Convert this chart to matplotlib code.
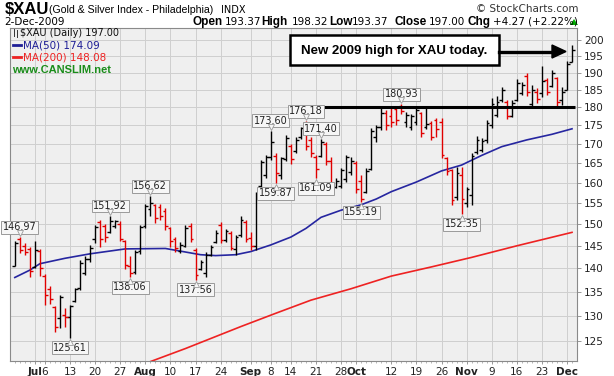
import matplotlib
matplotlib.use('Agg')
import matplotlib.pyplot as plt
import numpy as np
from matplotlib.patches import Rectangle, Polygon
from matplotlib.lines import Line2D
from matplotlib.ticker import FixedLocator, NullLocator, NullFormatter
import matplotlib.transforms as mtransforms

# ---------------- data (Jun 25 2009 .. Dec 2 2009, daily) ----------------
opens = [140.6, 146.6, 145.0, 144.3, 140.3, 143.9, 138.3, 135.5, 131.7, 129.5,
         130.1, 129.7, 133.0, 135.7, 139.0, 142.0, 146.5, 150.5, 149.5, 148.2,
         149.5, 150.0, 146.0, 140.5, 139.2, 143.8, 149.5, 153.5, 154.5, 154.0,
         153.0, 149.0, 146.5, 143.8, 145.0, 149.5, 144.0, 139.8, 139.0, 143.0,
         145.8, 149.8, 146.3, 148.0, 144.3, 147.5, 150.6, 146.8, 145.0, 159.2,
         162.0, 166.5, 166.8, 162.0, 166.0, 169.5, 168.2, 172.0, 175.8, 171.0,
         166.5, 166.8, 170.0, 165.5, 159.0, 159.2, 161.0, 162.8, 165.0, 160.5,
         157.8, 163.5, 172.0, 174.5, 178.5, 177.5, 179.5, 180.5, 176.0, 174.5,
         176.0, 178.5, 174.5, 175.8, 176.5, 176.0, 166.2, 163.2, 156.5, 162.0,
         155.0, 157.0, 168.0, 168.5, 171.0, 175.0, 178.0, 182.0, 181.5, 177.5,
         182.0, 184.0, 189.0, 181.0, 184.5, 184.0, 188.0, 186.0, 188.5, 182.0,
         185.0, 193.37]
highs = [146.0, 146.97, 145.7, 144.8, 146.2, 144.2, 138.8, 136.2, 132.0, 134.3,
         131.5, 132.2, 135.7, 141.8, 142.6, 145.2, 149.8, 151.0, 150.0, 151.92,
         151.0, 150.8, 146.4, 142.8, 144.1, 149.8, 154.9, 156.62, 154.9, 154.9,
         153.8, 149.4, 147.1, 145.9, 149.8, 150.2, 144.4, 141.8, 143.7, 145.2,
         148.6, 150.4, 148.8, 148.5, 147.5, 151.8, 151.0, 148.2, 157.8, 165.8,
         167.1, 173.60, 167.5, 166.7, 172.4, 170.0, 171.8, 174.7, 176.18, 171.8,
         167.0, 171.40, 170.5, 166.7, 161.1, 163.7, 167.1, 166.5, 165.6, 162.0,
         163.7, 174.2, 175.1, 180.2, 179.3, 180.2, 180.3, 180.93, 178.8, 178.3,
         180.2, 178.8, 180.4, 176.1, 177.0, 177.0, 166.5, 163.5, 164.1, 164.1,
         159.0, 167.5, 172.2, 171.5, 176.5, 182.6, 183.2, 185.9, 182.1, 182.0,
         188.2, 187.4, 189.9, 186.3, 185.5, 192.0, 188.5, 190.9, 188.8, 185.9,
         193.6, 198.32]
lows = [140.4, 143.3, 142.9, 138.2, 140.0, 138.3, 132.2, 132.4, 126.8, 127.5,
        127.8, 125.61, 132.9, 135.3, 138.5, 141.4, 145.6, 144.8, 145.9, 147.9,
        149.2, 146.0, 139.8, 138.06, 138.8, 143.2, 149.0, 151.8, 150.2, 151.0,
        148.6, 144.8, 143.7, 143.3, 144.8, 145.9, 137.56, 139.6, 138.2, 142.6,
        145.6, 145.6, 145.8, 144.0, 143.0, 147.0, 145.9, 144.1, 144.1, 158.6,
        161.1, 165.8, 159.87, 161.0, 165.5, 164.9, 167.5, 171.3, 168.4, 166.5,
        161.09, 166.5, 164.5, 157.4, 158.6, 158.6, 160.2, 162.0, 157.4, 155.19,
        157.4, 163.2, 170.6, 173.8, 173.8, 174.7, 175.1, 178.3, 174.7, 173.8,
        175.1, 172.0, 174.0, 171.1, 172.0, 166.2, 162.0, 154.6, 155.8, 152.35,
        154.1, 154.6, 167.3, 167.8, 170.2, 174.2, 177.2, 181.6, 176.7, 177.2,
        181.8, 183.5, 183.3, 179.7, 181.2, 183.0, 183.6, 185.9, 180.2, 180.8,
        184.9, 193.37]
closes = [145.6, 144.1, 143.6, 139.3, 144.1, 140.0, 134.3, 133.4, 127.8, 133.8,
          129.7, 132.0, 135.5, 141.2, 142.0, 144.6, 149.3, 146.5, 147.0, 150.8,
          150.7, 146.5, 140.8, 139.0, 143.6, 149.3, 154.2, 155.0, 151.5, 152.0,
          149.5, 146.0, 144.5, 145.2, 149.2, 146.5, 138.5, 141.3, 143.0, 144.8,
          148.0, 146.3, 148.3, 144.5, 147.0, 151.0, 146.5, 145.0, 157.2, 165.2,
          166.5, 170.5, 162.5, 166.2, 171.5, 166.0, 171.2, 174.2, 169.5, 167.5,
          163.5, 170.5, 165.5, 158.2, 160.5, 163.2, 166.5, 165.5, 158.5, 156.0,
          163.0, 173.5, 174.5, 178.5, 175.0, 176.0, 176.5, 179.0, 178.0, 177.5,
          179.2, 173.0, 175.5, 172.0, 174.0, 167.0, 163.0, 155.8, 162.5, 156.0,
          158.5, 166.8, 171.0, 170.8, 175.8, 181.0, 181.5, 185.0, 177.5, 181.2,
          187.0, 186.5, 184.5, 185.0, 182.5, 187.5, 184.5, 190.0, 181.5, 184.5,
          192.73, 197.00]

ma50_idx = [0, 3, 5, 10, 15, 22, 30, 33, 37, 40, 44, 47, 51, 55, 58, 61, 65,
            69, 72, 75, 80, 85, 89, 93, 97, 102, 107, 111]
ma50_val = [138.0, 139.6, 141.0, 142.2, 143.2, 144.3, 144.4, 143.8, 143.0,
            142.8, 143.0, 143.7, 145.2, 147.0, 149.0, 151.6, 153.3, 154.6,
            156.0, 157.8, 160.2, 163.0, 164.5, 167.0, 169.3, 171.1, 172.6, 174.09]

ma200_idx = [20, 27, 34, 45, 52, 59, 67, 75, 83, 91, 100, 111]
ma200_val = [118.3, 121.0, 123.5, 127.8, 130.5, 133.2, 135.6, 138.3, 140.3,
             142.4, 145.0, 148.08]

tick_idx = [4, 6, 11, 16, 21, 26, 31, 36, 41, 47, 51, 55, 60, 65, 68, 75, 80,
            85, 90, 95, 100, 105, 110]
tick_labels = ['Jul', '6', '13', '20', '27', 'Aug', '10', '17', '24', 'Sep', '8',
               '14', '21', '28', 'Oct', '12', '19', '26', 'Nov', '9', '16', '23',
               'Dec']
month_labels = {'Jul', 'Aug', 'Sep', 'Oct', 'Nov', 'Dec'}

y_ticks = [125, 130, 135, 140, 145, 150, 155, 160, 165, 170, 175, 180, 185,
           190, 195, 200]

# (bar index, value, 'H' above / 'L' below, text)
point_labels = [(1, 146.97, 'H', '146.97'), (11, 125.61, 'L', '125.61'),
                (19, 151.92, 'H', '151.92'), (23, 138.06, 'L', '138.06'),
                (27, 156.62, 'H', '156.62'), (36, 137.56, 'L', '137.56'),
                (51, 173.60, 'H', '173.60'), (52, 159.87, 'L', '159.87'),
                (58, 176.18, 'H', '176.18'), (61, 171.40, 'H', '171.40'),
                (60, 161.09, 'L', '161.09'), (69, 155.19, 'L', '155.19'),
                (77, 180.93, 'H', '180.93'), (89, 152.35, 'L', '152.35')]

resistance_level = 180.1
resistance_start = 54.8

# ---------------- figure ----------------
W, H = 614, 376
fig = plt.figure(figsize=(W / 100, H / 100), dpi=100)
fig.patch.set_facecolor('white')

PL, PR, PT, PB = 10, 577, 28, 361
ax = fig.add_axes([PL / W, 1 - PB / H, (PR - PL) / W, (PB - PT) / H])
ax.set_facecolor('#efefef')

# axis scaling (log price scale as StockCharts)
K = 640.0
ax.set_yscale('log')
ax.set_ylim(200 * np.exp(-(PB - 40) / K), 200 * np.exp((40 - PT) / K))
x0, dx = 14.8, 5.02
ax.set_xlim((PL - x0) / dx, (PR - x0) / dx)

ax.yaxis.set_major_locator(FixedLocator(y_ticks))
ax.yaxis.set_minor_locator(NullLocator())
ax.yaxis.set_minor_formatter(NullFormatter())
ax.set_yticklabels([str(v) for v in y_ticks])
ax.yaxis.tick_right()
ax.tick_params(axis='y', which='major', labelsize=7.5, length=3, width=0.6,
               pad=2, color='#888888', labelcolor='#222222')

ax.set_xticks(tick_idx)
ax.set_xticklabels(tick_labels)
ax.xaxis.set_minor_locator(FixedLocator(list(range(len(closes)))))
ax.tick_params(axis='x', which='major', length=2, width=0.6, pad=2,
               labelsize=7.5, color='#888888', labelcolor='#222222')
ax.tick_params(axis='x', which='minor', length=1.5, width=0.5, color='#999999')
for lbl in ax.get_xticklabels():
    if lbl.get_text() in month_labels:
        lbl.set_fontweight('bold')
    if lbl.get_text() == 'Jul':
        lbl.set_x(3.6)

ax.grid(True, which='major', color='#cfcfcf', lw=0.7)
ax.set_axisbelow(True)
for s in ax.spines.values():
    s.set_color('#8a8a8a')
    s.set_linewidth(0.8)

# ---------------- OHLC bars ----------------
n = len(closes)
xs = np.arange(n)
cols = ['#e00000' if c < o else '#000000' for o, c in zip(opens, closes)]
ax.vlines(xs, lows, highs, colors=cols, lw=1.0, zorder=3)
ax.hlines(opens, xs - 0.55, xs, colors=cols, lw=1.0, zorder=3)
ax.hlines(closes, xs, xs + 0.55, colors=cols, lw=1.0, zorder=3)

# moving averages
ax.plot(ma50_idx, ma50_val, color='#2626a0', lw=1.2, zorder=2)
ax.plot(ma200_idx, ma200_val, color='#ee2222', lw=1.2, zorder=2)

# resistance line
ax.hlines(resistance_level, resistance_start, n - 0.5, colors='black', lw=2.2,
          zorder=4)

# point labels
for i, v, kind, txt in point_labels:
    off = 10 if kind == 'H' else -10
    ax.annotate(txt, xy=(i, v), xytext=(0, off * 0.72), textcoords='offset points',
                ha='center', va='center', fontsize=7, color='#222222',
                family='DejaVu Sans', zorder=6,
                bbox=dict(boxstyle='square,pad=0.15', fc='#f6f6f6', ec='#9a9a9a',
                          lw=0.7))
    tr = mtransforms.offset_copy(ax.transData, fig=fig, x=0,
                                 y=(4 if kind == 'H' else -4), units='dots')
    ax.plot([i], [v], marker=('v' if kind == 'H' else '^'), ms=4,
            mfc='#f6f6f6', mec='#9a9a9a', mew=0.6, transform=tr, zorder=7)


def ft(x, y, s, **kw):
    kw.setdefault('va', 'center')
    return fig.text(x / W, 1 - y / H, s, **kw)


# ---------------- header ----------------
ft(5, 10, '$XAU', fontsize=12, fontweight='bold', family='Liberation Sans')
ft(49, 10, '(Gold & Silver Index - Philadelphia)', fontsize=7.6,
   family='Liberation Sans')
ft(221, 10, 'INDX', fontsize=7, family='DejaVu Sans')
ft(578, 9, '\u00a9 StockCharts.com', ha='right', fontsize=7.5,
   family='DejaVu Sans', color='#333333')
ft(4, 22, '2-Dec-2009', fontsize=7.5, family='DejaVu Sans')
parts = [(193, 'Open', True), (225, '193.37', False), (261, 'High', True),
         (292, '198.32', False), (329, 'Low', True), (352, '193.37', False),
         (395, 'Close', True), (429, '197.00', False), (468, 'Chg', True),
         (493, '+4.27 (+2.22%)', False)]
for x, s, b in parts:
    if b:
        ft(x, 22, s, fontsize=8.5, fontweight='bold', family='Liberation Sans')
    else:
        ft(x, 22, s, fontsize=7.5, family='DejaVu Sans')
fig.patches.append(Polygon([[570 / W, 1 - 25 / H], [578 / W, 1 - 25 / H],
                            [574 / W, 1 - 19 / H]], closed=True,
                           transform=fig.transFigure, fc='#00b000', ec='none'))

# ---------------- legend ----------------
for x, y1, y2 in [(14, 29, 36), (17, 30, 37)]:
    fig.add_artist(Line2D([x / W, x / W], [1 - y1 / H, 1 - y2 / H],
                          transform=fig.transFigure, color='#333333', lw=0.7))
ft(20, 33, '$XAU (Daily) 197.00', fontsize=7, family='DejaVu Sans',
   color='#111111')
fig.add_artist(Line2D([13 / W, 21 / W], [1 - 45 / H, 1 - 45 / H],
                      transform=fig.transFigure, color='#1e1e96', lw=2))
ft(23, 45, 'MA(50) 174.09', fontsize=7.5, family='DejaVu Sans', color='#1e1e96')
fig.add_artist(Line2D([13 / W, 21 / W], [1 - 57 / H, 1 - 57 / H],
                      transform=fig.transFigure, color='#ee2222', lw=2))
ft(23, 57, 'MA(200) 148.08', fontsize=7.5, family='DejaVu Sans', color='#ee2222')
ft(12, 70, 'www.CANSLIM.net', fontsize=8, fontweight='bold',
   family='Liberation Sans', color='#1a8c1a')

# ---------------- callout ----------------
fig.patches.append(Rectangle((290 / W, 1 - 65 / H), (499 - 290) / W, 30 / H,
                             transform=fig.transFigure, fc='white', ec='black',
                             lw=1.8, zorder=8))
ft(394.5, 51, 'New 2009 high for XAU today.', ha='center', fontsize=9.5,
   fontweight='bold', family='Liberation Sans', zorder=9)
fig.add_artist(Line2D([499 / W, 556 / W], [1 - 51.5 / H, 1 - 51.5 / H],
                      transform=fig.transFigure, color='black', lw=2.4, zorder=9))
fig.patches.append(Polygon([[552 / W, 1 - 45 / H], [552 / W, 1 - 58 / H],
                            [566 / W, 1 - 51.5 / H]], closed=True,
                           transform=fig.transFigure, fc='black', ec='black',
                           zorder=9))

fig.savefig('out.png', dpi=100, facecolor='white')
